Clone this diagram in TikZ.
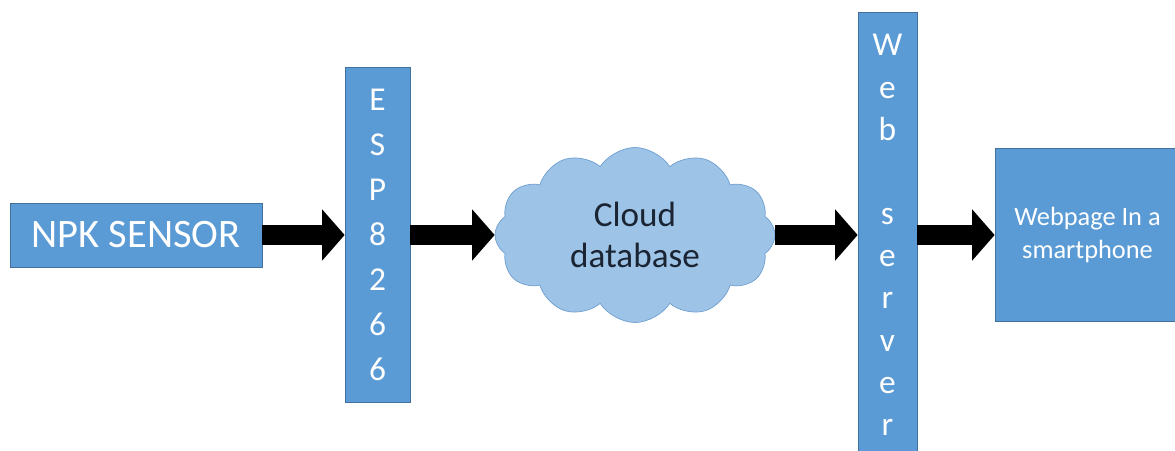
\documentclass[tikz,border=0pt]{standalone}
\usepackage{fontspec}
\setmainfont{Carlito}
\usepackage{tikz}
\usetikzlibrary{shapes.symbols}
\usetikzlibrary{arrows.meta}
\definecolor{boxblue}{HTML}{5B9BD5}
\definecolor{boxedge}{HTML}{41719C}
\definecolor{cloudblue}{HTML}{9DC3E6}
\definecolor{cloudedge}{HTML}{6E9FD0}
\definecolor{cloudtext}{HTML}{1A2433}

\begin{document}
\begin{tikzpicture}
    [
    block/.style={rectangle,draw=boxedge,fill=boxblue,text=white,inner sep=0pt},
    flow/.style={line width=4mm,-{Triangle[length=4.5mm,width=10mm]}},
    ]
    \useasboundingbox (0,0) rectangle (23.5,9);
    \node (npk) at (2.72,4.3) [block,minimum width=5.04cm,minimum height=1.28cm,font=\fontsize{23}{28}\selectfont] {NPK SENSOR};
    \node (esp) at (7.55,4.3) [block,minimum width=1.3cm,minimum height=6.7cm,align=center,font=\fontsize{19}{25.6}\selectfont] {E\\S\\P\\8\\2\\6\\6};
    \node (cloud) at (12.7,4.3) [cloud,cloud puffs=12,cloud puff arc=115,aspect=1.7,draw=cloudedge,fill=cloudblue,text=cloudtext,minimum width=5.6cm,minimum height=3.5cm,inner sep=0pt,align=center,font=\fontsize{20}{23}\selectfont] {Cloud\\database};
    \node (web) at (17.75,4.3) [block,minimum width=1.18cm,minimum height=8.9cm,align=center,font=\fontsize{19}{24}\selectfont] {W\\e\\b\\~\\s\\e\\r\\v\\e\\r};
    \node (phone) at (21.75,4.3) [block,minimum width=3.7cm,minimum height=3.46cm,align=center,font=\fontsize{15}{18.5}\selectfont] {Webpage In a\\smartphone};
    \draw [flow] (npk) to (esp);
    \draw [flow] (esp) to (cloud);
    \draw [flow] (cloud) to (web);
    \draw [flow] (web) to (phone);
  \end{tikzpicture}
\end{document}
